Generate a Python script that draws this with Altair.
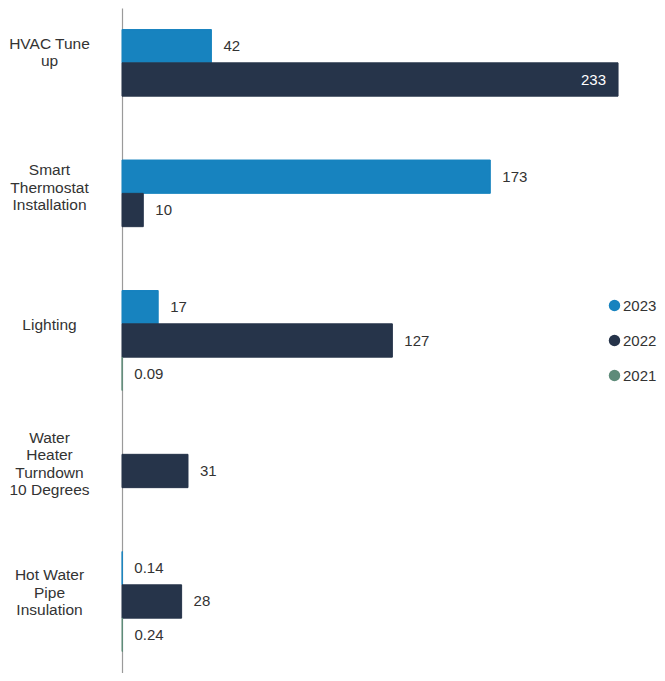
import altair as alt
import pandas as pd

categories = ["HVAC Tune|up", "Smart|Thermostat|Installation", "Lighting",
              "Water|Heater|Turndown|10 Degrees", "Hot Water|Pipe|Insulation"]
years = ["2023", "2022", "2021"]
v2023 = [42, 173, 17, None, 0.14]
v2022 = [233, 10, 127, 31, 28]
v2021 = [None, None, 0.09, None, 0.24]
colors = ["#1783bf", "#26344a", "#5e8b79"]

rows = []
for yr, vals in zip(years, [v2023, v2022, v2021]):
    for c, v in zip(categories, vals):
        if v is not None:
            rows.append({"category": c, "year": yr, "value": v})
df = pd.DataFrame(rows)

font = "Liberation Sans"

label_offset = {
    "condition": [
        {"test": "datum.label == 'HVAC Tune|up'", "value": -36},
        {"test": "datum.label == 'Smart|Thermostat|Installation'", "value": -40},
        {"test": "datum.label == 'Water|Heater|Turndown|10 Degrees'", "value": -33},
        {"test": "datum.label == 'Hot Water|Pipe|Insulation'", "value": -26},
    ],
    "value": -16,
}

y_enc = alt.Y("category:N", sort=categories, title=None,
              scale=alt.Scale(paddingInner=0.234, paddingOuter=0.165, align=0.5),
              axis=alt.Axis(ticks=False, domainColor="#9a9a9a", domainWidth=1.2,
                            labelExpr="split(datum.label, '|')",
                            labelAlign="center", labelPadding=73,
                            labelOffset=label_offset,
                            labelFont=font, labelFontSize=15.5, labelColor="#333333",
                            labelLineHeight=17.5, minExtent=114, maxExtent=114,
                            labelLimit=200))
yoff = alt.YOffset("year:N", sort=years)
x_enc = alt.X("value:Q", axis=None, scale=alt.Scale(domain=[0, 251.3], nice=False))
color_scale = alt.Scale(domain=years, range=colors)

base = alt.Chart(df)

bars = base.mark_bar(strokeWidth=1).encode(
    y=y_enc, yOffset=yoff, x=x_enc,
    color=alt.Color("year:N", scale=color_scale, title=None,
                    legend=alt.Legend(orient="none", legendX=485, legendY=290,
                                      symbolType="circle", symbolSize=130,
                                      symbolStrokeWidth=0,
                                      labelFont=font, labelFontSize=15,
                                      labelColor="#333333", rowPadding=19,
                                      labelOffset=1)),
    stroke=alt.Stroke("year:N", scale=color_scale, legend=None),
)

outside = base.transform_filter("datum.value < 200").mark_text(
    align="left", baseline="middle", dx=12, font=font, fontSize=15, color="#333333"
).encode(y=alt.Y("category:N", sort=categories), yOffset=yoff, x=x_enc,
         text=alt.Text("value:Q", format="~g"))

inside = base.transform_filter("datum.value >= 200").mark_text(
    align="right", baseline="middle", dx=-12, font=font, fontSize=15, color="white"
).encode(y=alt.Y("category:N", sort=categories), yOffset=yoff, x=x_enc,
         text=alt.Text("value:Q", format="~g"))

chart = alt.layer(bars, outside, inside).properties(
    width=535, height=665,
    autosize=alt.AutoSizeParams(type="none"),
    padding={"left": 114, "top": 0, "right": 0, "bottom": 0},
).configure_view(stroke=None)

chart.save("out.html", embed_options={"renderer": "svg", "actions": False})
